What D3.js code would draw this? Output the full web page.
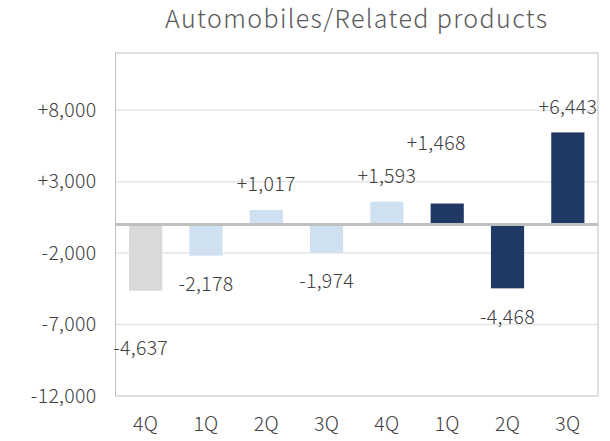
<!DOCTYPE html>
<html>
<head>
<meta charset="utf-8">
<script src="https://cdn.jsdelivr.net/npm/d3@7"></script>
<style>
  body { margin: 0; background: #fff; }
  text { font-family: "Noto Sans CJK JP", "Noto Sans", sans-serif; font-weight: 300; }
</style>
</head>
<body>
<div id="chart"></div>
<script>
// quarters (two years shown, so labels repeat)
var quarters = ["4Q", "1Q", "2Q", "3Q", "4Q", "1Q", "2Q", "3Q"];
var values = [-4637, -2178, 1017, -1974, 1593, 1468, -4468, 6443];
// 0 = previous year, 1 = last year, 2 = current year
var period = [0, 1, 1, 1, 1, 2, 2, 2];
var yTicks = [-12000, -7000, -2000, 3000, 8000];

var colors = ["#d9d9d9", "#cfe0f1", "#203864"];
// a few labels were moved by hand in the original
var labelNudge = [{dx: -5, dy: 29}, {dx: 0, dy: 0}, {dx: 0, dy: 0}, {dx: 0, dy: 0},
                  {dx: 0, dy: 0}, {dx: -11, dy: -35}, {dx: 0, dy: 0}, {dx: 0, dy: 0}];

var W = 610, H = 441;
var margin = {top: 53, right: 12, bottom: 45, left: 115.5};
var width = W - margin.left - margin.right,
    height = H - margin.top - margin.bottom;

var svg = d3.select("#chart").append("svg")
    .attr("width", W)
    .attr("height", H);

var g = svg.append("g")
    .attr("transform", "translate(" + margin.left + "," + margin.top + ")");

var x = d3.scaleBand()
    .domain(d3.range(quarters.length))
    .range([0, width])
    .paddingInner(0.45)
    .paddingOuter(0.225);

var y = d3.scaleLinear()
    .domain([-12000, 12000])
    .range([height, 0]);

function fmt(v) {
    return (v > 0 ? "+" : "") + d3.format(",")(v).replace("\u2212", "-");
}

// title
svg.append("text")
    .attr("x", margin.left + width / 2)
    .attr("y", 28)
    .attr("text-anchor", "middle")
    .style("font-size", "25px")
    .style("letter-spacing", "1.4px")
    .style("fill", "#595959")
    .text("Automobiles/Related products");

// gridlines
g.selectAll(".grid")
    .data(yTicks.filter(function (t) { return t > -12000; }))
    .enter()
    .append("line")
    .attr("class", "grid")
    .attr("x1", 0)
    .attr("x2", width)
    .attr("y1", function (d) { return y(d); })
    .attr("y2", function (d) { return y(d); })
    .style("stroke", "#e6e6e6")
    .style("stroke-width", 1.5);

// y axis labels
var yAxis = d3.axisLeft(y)
    .tickValues(yTicks)
    .tickSize(0)
    .tickPadding(19)
    .tickFormat(fmt);

var gy = g.append("g").call(yAxis);
gy.select(".domain").remove();
gy.selectAll("text")
    .style("font-size", "19.5px")
    .style("letter-spacing", "0.3px")
    .style("fill", "#404040");

// bars
g.selectAll(".bar")
    .data(values)
    .enter()
    .append("rect")
    .attr("class", "bar")
    .attr("x", function (d, i) { return x(i); })
    .attr("width", x.bandwidth())
    .attr("y", function (d) { return y(Math.max(0, d)); })
    .attr("height", function (d) { return Math.abs(y(d) - y(0)); })
    .style("fill", function (d, i) { return colors[period[i]]; });

// zero line
g.append("line")
    .attr("x1", 0)
    .attr("x2", width)
    .attr("y1", y(0))
    .attr("y2", y(0))
    .style("stroke", "#bfbfbf")
    .style("stroke-width", 3);

// plot frame
g.append("rect")
    .attr("x", 0)
    .attr("y", 0)
    .attr("width", width)
    .attr("height", height)
    .style("fill", "none")
    .style("stroke", "#bfbfbf")
    .style("stroke-width", 1);

// value labels
g.selectAll(".label")
    .data(values)
    .enter()
    .append("text")
    .attr("class", "label")
    .attr("text-anchor", "middle")
    .attr("dominant-baseline", "central")
    .attr("x", function (d, i) { return x(i) + x.bandwidth() / 2 + labelNudge[i].dx; })
    .attr("y", function (d, i) { return y(d) + (d < 0 ? 27 : -27) + labelNudge[i].dy; })
    .style("font-size", "19.5px")
    .style("letter-spacing", "0.3px")
    .style("fill", "#404040")
    .text(fmt);

// x axis labels
var xAxis = d3.axisBottom(x)
    .tickSize(0)
    .tickPadding(21)
    .tickFormat(function (i) { return quarters[i]; });

var gx = g.append("g")
    .attr("transform", "translate(0," + height + ")")
    .call(xAxis);
gx.select(".domain").remove();
gx.selectAll("text")
    .style("font-size", "19.5px")
    .style("letter-spacing", "0.3px")
    .style("fill", "#404040");
</script>
</body>
</html>
